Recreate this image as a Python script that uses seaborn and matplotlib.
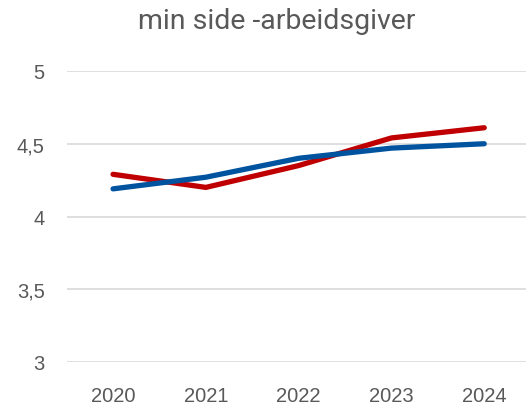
import pandas as pd
import matplotlib.pyplot as plt
import matplotlib.ticker as mticker
import seaborn as sns

years = ['2020', '2021', '2022', '2023', '2024']
red_values = [4.29, 4.20, 4.35, 4.54, 4.61]
blue_values = [4.19, 4.27, 4.40, 4.47, 4.50]
series_names = ['Serie 1', 'Serie 2']
colors = ['#C00000', '#00549F']


def build_frame():
    frames = []
    for name, vals in zip(series_names, [red_values, blue_values]):
        frames.append(pd.DataFrame({'year': years, 'value': vals, 'series': name}))
    return pd.concat(frames, ignore_index=True)


def main():
    sns.set_style('white')
    plt.rcParams['font.family'] = ['Liberation Sans', 'DejaVu Sans']
    data = build_frame()

    fig = plt.figure(figsize=(5.26, 4.06), dpi=100)
    ax = fig.add_axes([67 / 526, 43 / 406, (526 - 67) / 526, 291 / 406])

    sns.lineplot(data=data, x='year', y='value', hue='series',
                 palette=colors, linewidth=3.8, ax=ax, legend=False,
                 solid_capstyle='round')

    ax.set_ylim(3, 5)
    ax.set_xlim(-0.496, 4.45)
    ax.yaxis.set_major_locator(mticker.MultipleLocator(0.5))
    ax.yaxis.set_major_formatter(mticker.FuncFormatter(
        lambda v, p: ('%g' % v).replace('.', ',')))
    ax.grid(axis='y', color='#D9D9D9', linewidth=1.2)
    ax.set_axisbelow(True)
    for s in ax.spines.values():
        s.set_visible(False)
    ax.tick_params(axis='both', length=0, labelsize=14.5, colors='#595959')
    ax.tick_params(axis='y', pad=16)
    ax.tick_params(axis='x', pad=17)
    ax.set_xlabel('')
    ax.set_ylabel('')

    fig.text(277 / 526, 1 - 29 / 406, 'min side -arbeidsgiver', ha='center',
             va='baseline', fontsize=20.5, color='#595959',
             family=['Roboto', 'DejaVu Sans'])

    fig.savefig('out.png', dpi=100)


if __name__ == '__main__':
    main()
